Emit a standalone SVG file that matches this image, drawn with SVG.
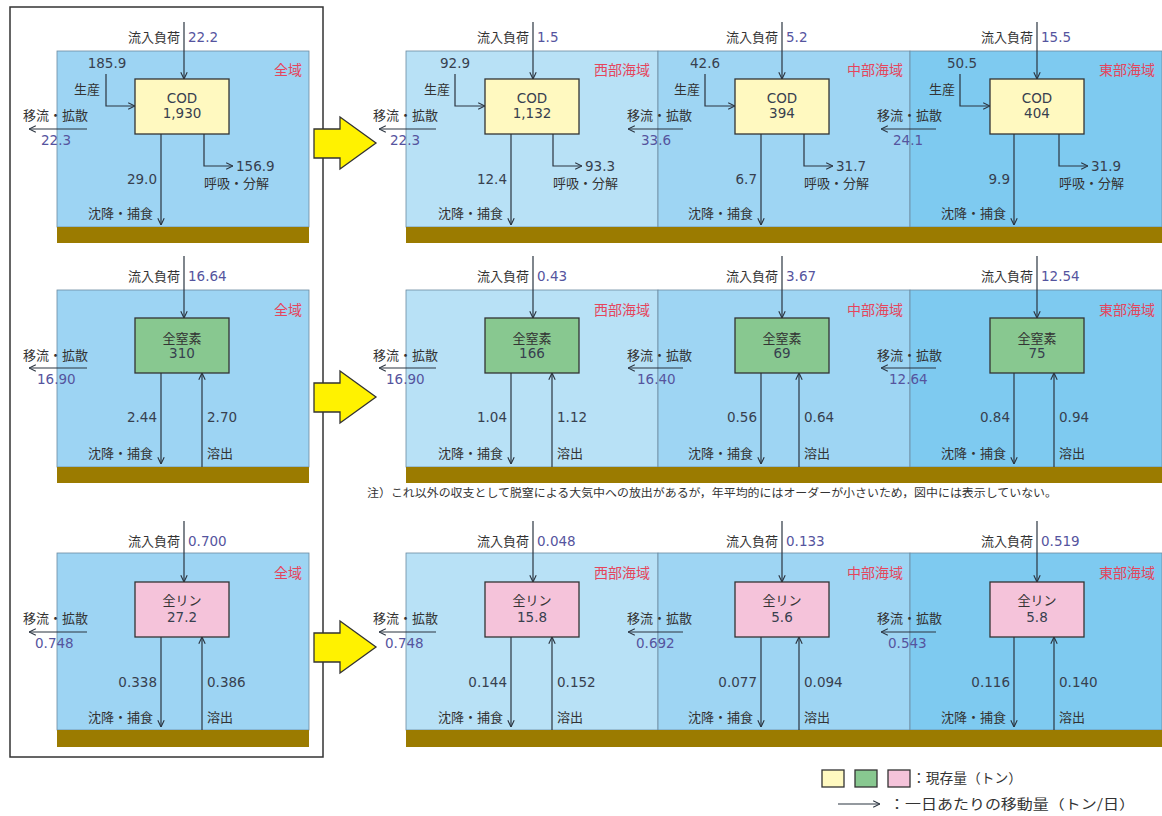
<svg xmlns="http://www.w3.org/2000/svg" width="1162" height="816" viewBox="0 0 1162 816">
<defs>
<marker id="ah" viewBox="0 0 10 10" refX="9.5" refY="5" markerWidth="8" markerHeight="8" markerUnits="userSpaceOnUse" orient="auto">
<path d="M1,1 L9.5,5 L1,9" fill="none" stroke="#2b3440" stroke-width="1.4"/>
</marker>
<style>
.lbl{font-family:"Noto Sans CJK JP","Noto Sans",sans-serif;font-size:13px;fill:#333}
.num{font-family:"DejaVu Sans",sans-serif;font-size:13.5px;fill:#37404f}
.flow{fill:#55549e}
.reg{font-family:"Noto Sans CJK JP",sans-serif;font-size:14px;fill:#e5455c}
.box{stroke:#333;stroke-width:1.3}
.cod{fill:#fff9c0}
.tn{fill:#88c890}
.tp{fill:#f5c3da}
.sed{fill:#9b7b00}
.wL{fill:#9dd4f3}
.wW{fill:#b8e1f6}
.wM{fill:#9ed5f3}
.wE{fill:#7ecaf0}
.wat{stroke:#6b8aa0;stroke-width:0.8}
.ln{stroke:#2b3440;stroke-width:1.2;fill:none}
.ya{fill:#fff200;stroke:#333;stroke-width:1.3}
.mid{text-anchor:middle}
.end{text-anchor:end}
</style>
</defs>
<rect width="1162" height="816" fill="#fff"/>
<g id="frame"><rect x="10" y="7" width="313" height="750" fill="none" stroke="#333" stroke-width="1.5"/></g>

<!-- water & sediment -->
<g id="basins">
<rect class="wL wat" x="57" y="51" width="252" height="176"/>
<rect class="wW wat" x="406" y="51" width="252" height="176"/>
<rect class="wM wat" x="658" y="51" width="252" height="176"/>
<rect class="wE wat" x="910" y="51" width="252" height="176"/>
<rect class="sed" x="57" y="227" width="252" height="16"/>
<rect class="sed" x="406" y="227" width="756" height="16"/>

<rect class="wL wat" x="57" y="290" width="252" height="177"/>
<rect class="wW wat" x="406" y="290" width="252" height="177"/>
<rect class="wM wat" x="658" y="290" width="252" height="177"/>
<rect class="wE wat" x="910" y="290" width="252" height="177"/>
<rect class="sed" x="57" y="467" width="252" height="16"/>
<rect class="sed" x="406" y="467" width="756" height="16"/>

<rect class="wL wat" x="57" y="553" width="252" height="177"/>
<rect class="wW wat" x="406" y="553" width="252" height="177"/>
<rect class="wM wat" x="658" y="553" width="252" height="177"/>
<rect class="wE wat" x="910" y="553" width="252" height="177"/>
<rect class="sed" x="57" y="730" width="252" height="17"/>
<rect class="sed" x="406" y="730" width="756" height="17"/>
</g>

<g id="big-arrows">
<polygon class="ya" points="314,129 340,129 340,117 376,143 340,169 340,158 314,158"/>
<polygon class="ya" points="314,383 340,383 340,371 376,397 340,423 340,412 314,412"/>
<polygon class="ya" points="314,633 340,633 340,621 376,647 340,673 340,662 314,662"/>
</g>

<!-- connectors -->
<g id="connectors" class="ln" marker-end="url(#ah)">
<path d="M184,22 V79"/><path d="M106,74 V106 H135"/><path d="M87,129 H29"/><path d="M161,134 V225"/><path d="M204,134 V166 H233"/>
<path d="M533,22 V79"/><path d="M455,74 V106 H485"/><path d="M436,129 H379"/><path d="M511,134 V225"/><path d="M553,134 V166 H582"/>
<path d="M782,22 V79"/><path d="M705,74 V106 H735"/><path d="M683,129 H628"/><path d="M761,134 V225"/><path d="M804,134 V166 H833"/>
<path d="M1037,22 V79"/><path d="M960,74 V106 H990"/><path d="M936,129 H881"/><path d="M1014,134 V225"/><path d="M1059,134 V166 H1088"/>

<path d="M184,256 V318"/><path d="M87,368 H29"/><path d="M161,373 V464"/><path d="M202,467 V373"/>
<path d="M533,256 V318"/><path d="M436,368 H379"/><path d="M511,373 V464"/><path d="M552,467 V373"/>
<path d="M782,256 V318"/><path d="M683,368 H628"/><path d="M761,373 V464"/><path d="M799,467 V373"/>
<path d="M1037,256 V318"/><path d="M936,368 H881"/><path d="M1014,373 V464"/><path d="M1054,467 V373"/>

<path d="M184,521 V582"/><path d="M87,632 H29"/><path d="M161,637 V727"/><path d="M202,730 V637"/>
<path d="M533,521 V582"/><path d="M436,632 H379"/><path d="M511,637 V727"/><path d="M552,730 V637"/>
<path d="M782,521 V582"/><path d="M683,632 H628"/><path d="M761,637 V727"/><path d="M799,730 V637"/>
<path d="M1037,521 V582"/><path d="M936,632 H881"/><path d="M1014,637 V727"/><path d="M1054,730 V637"/>
</g>

<!-- ROW 1 COD -->
<g id="cod-all">
<rect class="box cod" x="135" y="79" width="94" height="55"/>
<text class="num mid" x="182" y="103">COD</text><text class="num mid" x="182" y="118">1,930</text>
<text class="reg end" x="302" y="75">全域</text>
<text class="lbl end" x="180" y="41.5">流入負荷</text><text class="num flow" x="188" y="42">22.2</text>
<text class="num mid" x="107" y="68">185.9</text><text class="lbl end" x="100" y="93.5">生産</text>
<text class="lbl" x="23" y="119.5">移流・拡散</text><text class="num flow" x="41" y="145">22.3</text>
<text class="num end" x="157" y="184">29.0</text><text class="lbl end" x="153" y="217.5">沈降・捕食</text>
<text class="num" x="236" y="171">156.9</text><text class="lbl" x="204" y="187.5">呼吸・分解</text>
</g>
<g id="cod-west">
<rect class="box cod" x="485" y="79" width="94" height="55"/>
<text class="num mid" x="532" y="103">COD</text><text class="num mid" x="532" y="118">1,132</text>
<text class="reg end" x="650" y="75">西部海域</text>
<text class="lbl end" x="529" y="41.5">流入負荷</text><text class="num flow" x="537" y="42">1.5</text>
<text class="num mid" x="455" y="68">92.9</text><text class="lbl end" x="450" y="93.5">生産</text>
<text class="lbl" x="373" y="119.5">移流・拡散</text><text class="num flow" x="390" y="145">22.3</text>
<text class="num end" x="507" y="184">12.4</text><text class="lbl end" x="503" y="217.5">沈降・捕食</text>
<text class="num" x="585" y="171">93.3</text><text class="lbl" x="553" y="187.5">呼吸・分解</text>
</g>
<g id="cod-middle">
<rect class="box cod" x="735" y="79" width="94" height="55"/>
<text class="num mid" x="782" y="103">COD</text><text class="num mid" x="782" y="118">394</text>
<text class="reg end" x="903" y="75">中部海域</text>
<text class="lbl end" x="778" y="41.5">流入負荷</text><text class="num flow" x="786" y="42">5.2</text>
<text class="num mid" x="705" y="68">42.6</text><text class="lbl end" x="700" y="93.5">生産</text>
<text class="lbl" x="627" y="119.5">移流・拡散</text><text class="num flow" x="641" y="145">33.6</text>
<text class="num end" x="757" y="184">6.7</text><text class="lbl end" x="753" y="217.5">沈降・捕食</text>
<text class="num" x="836" y="171">31.7</text><text class="lbl" x="804" y="187.5">呼吸・分解</text>
</g>
<g id="cod-east">
<rect class="box cod" x="990" y="79" width="94" height="55"/>
<text class="num mid" x="1037" y="103">COD</text><text class="num mid" x="1037" y="118">404</text>
<text class="reg end" x="1155" y="75">東部海域</text>
<text class="lbl end" x="1033" y="41.5">流入負荷</text><text class="num flow" x="1041" y="42">15.5</text>
<text class="num mid" x="962" y="68">50.5</text><text class="lbl end" x="955" y="93.5">生産</text>
<text class="lbl" x="877" y="119.5">移流・拡散</text><text class="num flow" x="893" y="145">24.1</text>
<text class="num end" x="1010" y="184">9.9</text><text class="lbl end" x="1006" y="217.5">沈降・捕食</text>
<text class="num" x="1091" y="171">31.9</text><text class="lbl" x="1059" y="187.5">呼吸・分解</text>
</g>

<!-- ROW 2 TN -->
<g id="tn-all">
<rect class="box tn" x="135" y="318" width="94" height="55"/>
<text class="lbl mid" x="182" y="342.5">全窒素</text><text class="num mid" x="182" y="358">310</text>
<text class="reg end" x="302" y="315">全域</text>
<text class="lbl end" x="180" y="280.5">流入負荷</text><text class="num flow" x="188" y="281">16.64</text>
<text class="lbl" x="23" y="359.5">移流・拡散</text><text class="num flow" x="37" y="384">16.90</text>
<text class="num end" x="157" y="422">2.44</text><text class="num" x="207" y="422">2.70</text>
<text class="lbl end" x="153" y="457.5">沈降・捕食</text><text class="lbl" x="207" y="457.5">溶出</text>
</g>
<g id="tn-west">
<rect class="box tn" x="485" y="318" width="94" height="55"/>
<text class="lbl mid" x="532" y="342.5">全窒素</text><text class="num mid" x="532" y="358">166</text>
<text class="reg end" x="650" y="315">西部海域</text>
<text class="lbl end" x="529" y="280.5">流入負荷</text><text class="num flow" x="537" y="281">0.43</text>
<text class="lbl" x="373" y="359.5">移流・拡散</text><text class="num flow" x="386" y="384">16.90</text>
<text class="num end" x="507" y="422">1.04</text><text class="num" x="557" y="422">1.12</text>
<text class="lbl end" x="503" y="457.5">沈降・捕食</text><text class="lbl" x="557" y="457.5">溶出</text>
</g>
<g id="tn-middle">
<rect class="box tn" x="735" y="318" width="94" height="55"/>
<text class="lbl mid" x="782" y="342.5">全窒素</text><text class="num mid" x="782" y="358">69</text>
<text class="reg end" x="903" y="315">中部海域</text>
<text class="lbl end" x="778" y="280.5">流入負荷</text><text class="num flow" x="786" y="281">3.67</text>
<text class="lbl" x="627" y="359.5">移流・拡散</text><text class="num flow" x="637" y="384">16.40</text>
<text class="num end" x="757" y="422">0.56</text><text class="num" x="804" y="422">0.64</text>
<text class="lbl end" x="753" y="457.5">沈降・捕食</text><text class="lbl" x="804" y="457.5">溶出</text>
</g>
<g id="tn-east">
<rect class="box tn" x="990" y="318" width="94" height="55"/>
<text class="lbl mid" x="1037" y="342.5">全窒素</text><text class="num mid" x="1037" y="358">75</text>
<text class="reg end" x="1155" y="315">東部海域</text>
<text class="lbl end" x="1033" y="280.5">流入負荷</text><text class="num flow" x="1041" y="281">12.54</text>
<text class="lbl" x="877" y="359.5">移流・拡散</text><text class="num flow" x="889" y="384">12.64</text>
<text class="num end" x="1010" y="422">0.84</text><text class="num" x="1059" y="422">0.94</text>
<text class="lbl end" x="1006" y="457.5">沈降・捕食</text><text class="lbl" x="1059" y="457.5">溶出</text>
</g>

<g id="note"><text class="lbl" x="367" y="497" style="font-size:11.5px" textLength="690" lengthAdjust="spacingAndGlyphs">注）これ以外の収支として脱窒による大気中への放出があるが，年平均的にはオーダーが小さいため，図中には表示していない。</text></g>

<!-- ROW 3 TP -->
<g id="tp-all">
<rect class="box tp" x="135" y="582" width="94" height="55"/>
<text class="lbl mid" x="182" y="604.5">全リン</text><text class="num mid" x="182" y="622">27.2</text>
<text class="reg end" x="302" y="578">全域</text>
<text class="lbl end" x="180" y="545.5">流入負荷</text><text class="num flow" x="188" y="546">0.700</text>
<text class="lbl" x="23" y="622.5">移流・拡散</text><text class="num flow" x="35" y="648">0.748</text>
<text class="num end" x="157" y="687">0.338</text><text class="num" x="207" y="687">0.386</text>
<text class="lbl end" x="153" y="721.5">沈降・捕食</text><text class="lbl" x="207" y="721.5">溶出</text>
</g>
<g id="tp-west">
<rect class="box tp" x="485" y="582" width="94" height="55"/>
<text class="lbl mid" x="532" y="604.5">全リン</text><text class="num mid" x="532" y="622">15.8</text>
<text class="reg end" x="650" y="578">西部海域</text>
<text class="lbl end" x="529" y="545.5">流入負荷</text><text class="num flow" x="537" y="546">0.048</text>
<text class="lbl" x="373" y="622.5">移流・拡散</text><text class="num flow" x="385" y="648">0.748</text>
<text class="num end" x="507" y="687">0.144</text><text class="num" x="557" y="687">0.152</text>
<text class="lbl end" x="503" y="721.5">沈降・捕食</text><text class="lbl" x="557" y="721.5">溶出</text>
</g>
<g id="tp-middle">
<rect class="box tp" x="735" y="582" width="94" height="55"/>
<text class="lbl mid" x="782" y="604.5">全リン</text><text class="num mid" x="782" y="622">5.6</text>
<text class="reg end" x="903" y="578">中部海域</text>
<text class="lbl end" x="778" y="545.5">流入負荷</text><text class="num flow" x="786" y="546">0.133</text>
<text class="lbl" x="627" y="622.5">移流・拡散</text><text class="num flow" x="636" y="648">0.692</text>
<text class="num end" x="757" y="687">0.077</text><text class="num" x="804" y="687">0.094</text>
<text class="lbl end" x="753" y="721.5">沈降・捕食</text><text class="lbl" x="804" y="721.5">溶出</text>
</g>
<g id="tp-east">
<rect class="box tp" x="990" y="582" width="94" height="55"/>
<text class="lbl mid" x="1037" y="604.5">全リン</text><text class="num mid" x="1037" y="622">5.8</text>
<text class="reg end" x="1155" y="578">東部海域</text>
<text class="lbl end" x="1033" y="545.5">流入負荷</text><text class="num flow" x="1041" y="546">0.519</text>
<text class="lbl" x="877" y="622.5">移流・拡散</text><text class="num flow" x="888" y="648">0.543</text>
<text class="num end" x="1010" y="687">0.116</text><text class="num" x="1059" y="687">0.140</text>
<text class="lbl end" x="1006" y="721.5">沈降・捕食</text><text class="lbl" x="1059" y="721.5">溶出</text>
</g>

<g id="legend">
<rect class="box cod" x="822" y="770" width="22" height="17" stroke-width="1"/>
<rect class="box tn" x="855" y="770" width="22" height="17" stroke-width="1"/>
<rect class="box tp" x="888" y="770" width="22" height="17" stroke-width="1"/>
<text class="lbl" x="912" y="783" style="font-size:13.5px" textLength="110" lengthAdjust="spacingAndGlyphs">：現存量（トン）</text>
<path class="ln" d="M838,804 H880" marker-end="url(#ah)"/>
<text class="lbl" x="889" y="809" style="font-size:13.5px" textLength="246" lengthAdjust="spacingAndGlyphs">：一日あたりの移動量（トン/日）</text>
</g>
</svg>
